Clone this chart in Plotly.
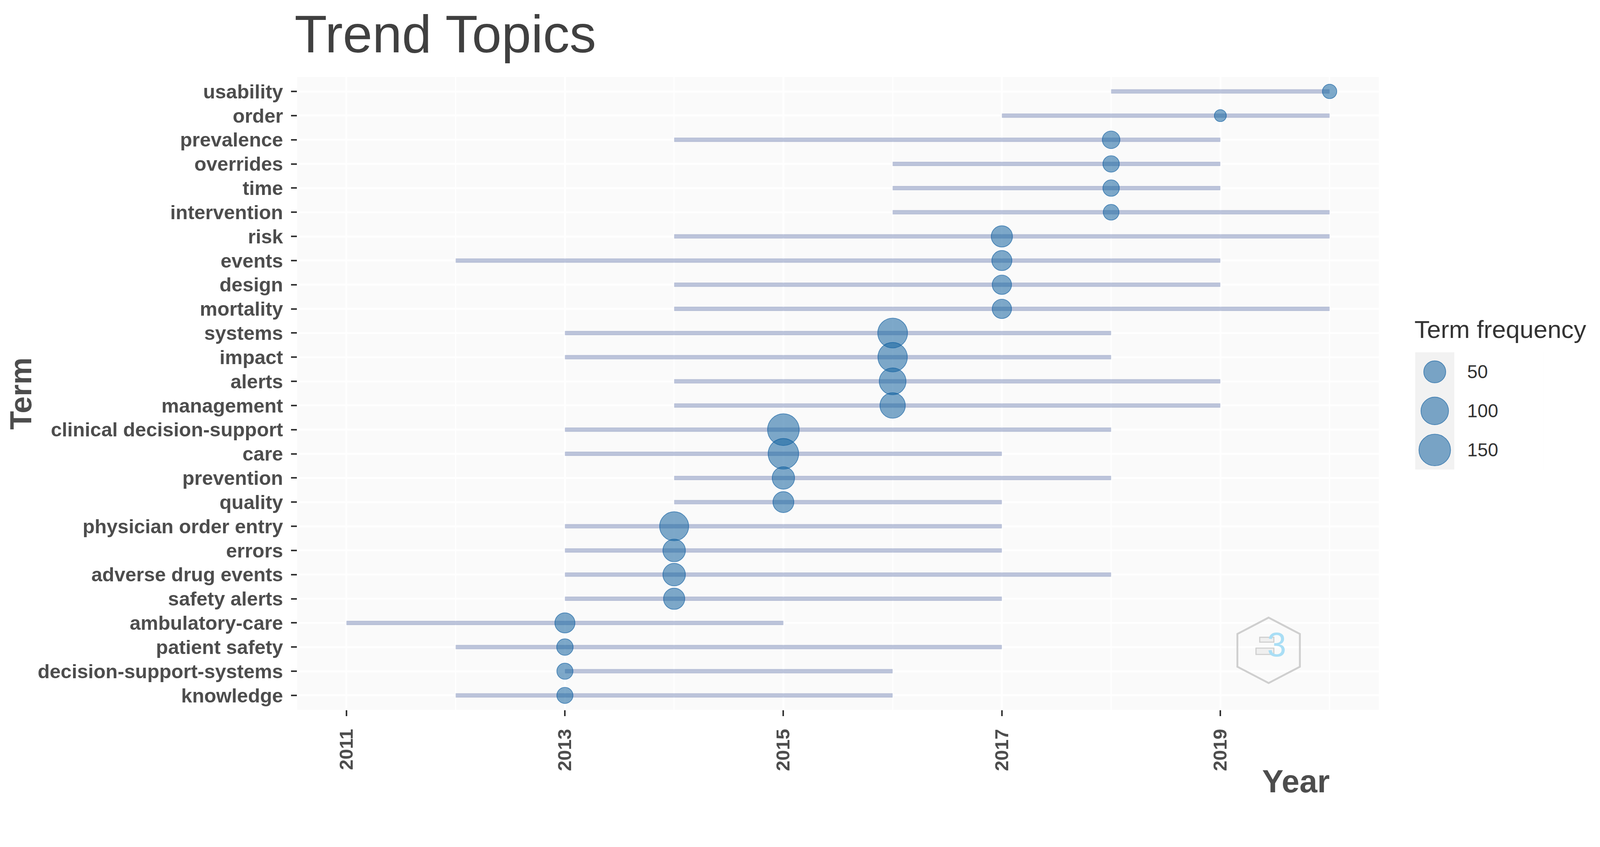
import math
import plotly.graph_objects as go

# ---------------- data ----------------
terms = ["usability", "order", "prevalence", "overrides", "time", "intervention",
         "risk", "events", "design", "mortality", "systems", "impact", "alerts",
         "management", "clinical decision-support", "care", "prevention", "quality",
         "physician order entry", "errors", "adverse drug events", "safety alerts",
         "ambulatory-care", "patient safety", "decision-support-systems", "knowledge"]
year_q1 = [2018, 2017, 2014, 2016, 2016, 2016, 2014, 2012, 2014, 2014, 2013, 2013, 2014,
           2014, 2013, 2013, 2014, 2014, 2013, 2013, 2013, 2013, 2011, 2012, 2013, 2012]
year_med = [2020, 2019, 2018, 2018, 2018, 2018, 2017, 2017, 2017, 2017, 2016, 2016, 2016,
            2016, 2015, 2015, 2015, 2015, 2014, 2014, 2014, 2014, 2013, 2013, 2013, 2013]
year_q3 = [2020, 2020, 2019, 2019, 2019, 2020, 2020, 2019, 2019, 2020, 2018, 2018, 2019,
           2019, 2018, 2017, 2018, 2017, 2017, 2017, 2018, 2017, 2015, 2017, 2016, 2016]
freq = [17, 15, 26, 22, 22, 20, 45, 38, 34, 34, 126, 122, 92,
        78, 151, 136, 53, 43, 117, 54, 54, 45, 38, 22, 21, 21]
legend_values = [50, 100, 150]
x_ticks = [2011, 2013, 2015, 2017, 2019]

# ---------------- geometry ----------------
# design values are in screenshot pixels; the page is shown at ~1.05 device px per
# CSS px with the default 8px body margin, so convert.
K = 1.05
OFF = 8


def f(p):
    return p / K - OFF


def s(v):
    return v / K


Wc, Hc = 4060, 2045
P_L, P_R, P_T, P_B = 799, 4265, 207, 1908      # plotting region (screenshot px)
ML, MT = f(P_L), f(P_T)
MR = Wc - f(P_R)
MB = Hc - f(P_B)
PW = f(P_R) - f(P_L)
PH = f(P_B) - f(P_T)
PANEL_RIGHT = 3706

# legend key box (screenshot px)
KEY_L, KEY_R, KEY_T, KEY_B = 3804, 3909, 947, 1262
LEG_R = 4150
X2_MAX = -1 + 2 * (LEG_R - KEY_L) / (KEY_R - KEY_L)


def px_x(p):
    return (f(p) - ML) / PW


def px_y(p):
    return (Hc - MB - f(p)) / PH


def legx(p):
    return -1 + 2 * (p - KEY_L) / (KEY_R - KEY_L)


# size scale (ggplot-like: sqrt rescale between min and max size)
D_MIN, D_MAX = 32, 85
vmin, vmax = min(freq), max(freq)


def diam(v):
    t = max(0.0, (v - vmin) / (vmax - vmin))
    return s(D_MIN + (D_MAX - D_MIN) * math.sqrt(t))


FONT = "Liberation Sans, Arial, sans-serif"
TXT = "#4D4D4D"
PT_COLOR = "rgba(20,100,160,0.78)"
PT_LINE = "rgba(0,85,155,1)"

fig = go.Figure()

# segments q1 -> q3
seg_x, seg_y = [], []
for t, a, b in zip(terms, year_q1, year_q3):
    seg_x += [a, b, None]
    seg_y += [t, t, None]
fig.add_trace(go.Scatter(
    x=seg_x, y=seg_y, mode="lines",
    line=dict(color="rgba(39,64,139,0.31)", width=s(11.5)),
    hoverinfo="skip", showlegend=False, xaxis="x", yaxis="y"))

# points at median year
fig.add_trace(go.Scatter(
    x=year_med, y=terms, mode="markers",
    marker=dict(size=[diam(v) for v in freq], color=PT_COLOR,
                line=dict(color=PT_LINE, width=s(2))),
    text=[f"{t}: {v}" for t, v in zip(terms, freq)],
    hoverinfo="text", showlegend=False, xaxis="x", yaxis="y"))

# size legend in its own small axes
leg_labels = [str(v) for v in legend_values]
leg_cats = list(reversed(leg_labels))
fig.add_trace(go.Scatter(
    x=[0] * len(legend_values), y=leg_labels, mode="markers",
    marker=dict(size=[diam(v) for v in legend_values], color=PT_COLOR,
                line=dict(color=PT_LINE, width=s(2))),
    hoverinfo="skip", showlegend=False, xaxis="x2", yaxis="y2"))

cat_order = list(reversed(terms))

fig.update_layout(
    width=Wc, height=Hc,
    margin=dict(l=ML, r=MR, t=MT, b=MB, pad=0),
    paper_bgcolor="white",
    plot_bgcolor="#FAFAFA",
    font=dict(family=FONT, color=TXT),
    showlegend=False,
    xaxis=dict(
        domain=[0, px_x(PANEL_RIGHT)],
        range=[2010.55, 2020.45],
        tickmode="array", tickvals=x_ticks, ticktext=[str(v) for v in x_ticks],
        tickangle=-90,
        tickfont=dict(family=FONT, size=s(51), color=TXT, weight="bold"),
        ticks="outside", ticklen=s(16), tickwidth=s(4.5), tickcolor="#333333",
        ticklabelstandoff=int(round(s(14))),
        showgrid=True, gridcolor="white", gridwidth=s(5.5),
        minor=dict(dtick=1, tick0=2011, showgrid=True, gridcolor="white",
                   gridwidth=s(3), ticks=""),
        zeroline=False, showline=False, fixedrange=True,
    ),
    yaxis=dict(
        domain=[0, 1],
        type="category", categoryorder="array", categoryarray=cat_order,
        range=[-0.6, len(terms) - 0.4],
        tickfont=dict(family=FONT, size=s(53), color=TXT, weight="bold"),
        ticks="outside", ticklen=s(16), tickwidth=s(4.5), tickcolor="#333333",
        ticklabelstandoff=int(round(s(10))),
        showgrid=True, gridcolor="white", gridwidth=s(5.5),
        zeroline=False, showline=False, fixedrange=True,
    ),
    xaxis2=dict(
        domain=[px_x(KEY_L), px_x(LEG_R)], anchor="y2",
        range=[-1, X2_MAX], visible=False, fixedrange=True,
    ),
    yaxis2=dict(
        domain=[px_y(KEY_B), px_y(KEY_T)], anchor="x2",
        type="category", categoryorder="array", categoryarray=leg_cats,
        range=[-0.5, len(legend_values) - 0.5],
        visible=False, fixedrange=True,
    ),
)

# legend area: white outside the key, grey key background
fig.add_shape(type="rect", xref="x2", yref="y2 domain",
              x0=-1, x1=X2_MAX, y0=0, y1=1, fillcolor="white", line=dict(width=0),
              layer="below")
fig.add_shape(type="rect", xref="x2", yref="y2 domain",
              x0=-1, x1=1, y0=0, y1=1, fillcolor="#F2F2F2", line=dict(width=0),
              layer="below")

# legend labels (category axis: position by category index)
for lab in leg_labels:
    fig.add_annotation(xref="x2", yref="y2", x=legx(3942), y=leg_cats.index(lab),
                       text=lab, showarrow=False, xanchor="left", yanchor="middle",
                       font=dict(family=FONT, size=s(50), color="#333333"))

# legend title
fig.add_annotation(xref="paper", yref="paper", x=px_x(3800), y=px_y(885),
                   text="Term frequency", showarrow=False, xanchor="left", yanchor="middle",
                   font=dict(family=FONT, size=s(67), color="#333333"))

# title
fig.add_annotation(xref="paper", yref="paper", x=px_x(790), y=px_y(92),
                   text="Trend Topics", showarrow=False, xanchor="left", yanchor="middle",
                   font=dict(family=FONT, size=s(143), color="#404040"))

# axis titles
fig.add_annotation(xref="paper", yref="paper", x=px_x(56), y=px_y(1058),
                   text="<b>Term</b>", textangle=-90, showarrow=False,
                   xanchor="center", yanchor="middle",
                   font=dict(family=FONT, size=s(82), color=TXT))
fig.add_annotation(xref="paper", yref="paper", x=px_x(3576), y=px_y(2100),
                   text="<b>Year</b>", showarrow=False,
                   xanchor="right", yanchor="middle",
                   font=dict(family=FONT, size=s(86), color=TXT))

# watermark logo (hexagon with books and a "3")
cx, cy, hw, hh = 3410, 1748, 84, 88
hex_pts = [(cx, cy - hh), (cx + hw, cy - hh / 2), (cx + hw, cy + hh / 2),
           (cx, cy + hh), (cx - hw, cy + hh / 2), (cx - hw, cy - hh / 2)]
path = "M " + " L ".join(f"{px_x(x):.5f},{px_y(y):.5f}" for x, y in hex_pts) + " Z"
fig.add_shape(type="path", xref="paper", yref="paper", path=path,
              line=dict(color="#CFCFCF", width=s(5)), fillcolor="rgba(0,0,0,0)")
fig.add_annotation(xref="paper", yref="paper", x=px_x(3432), y=px_y(1733),
                   text="3", showarrow=False, xanchor="center", yanchor="middle",
                   font=dict(family=FONT, size=s(92), color="#A9DEF5"))
fig.add_shape(type="rect", xref="paper", yref="paper",
              x0=px_x(3386), x1=px_x(3424), y0=px_y(1726), y1=px_y(1713),
              line=dict(color="#CFCFCF", width=s(3)), fillcolor="#EFEFEF")
fig.add_shape(type="rect", xref="paper", yref="paper",
              x0=px_x(3376), x1=px_x(3424), y0=px_y(1759), y1=px_y(1742),
              line=dict(color="#CFCFCF", width=s(3)), fillcolor="#EFEFEF")

fig.write_html("out.html")
